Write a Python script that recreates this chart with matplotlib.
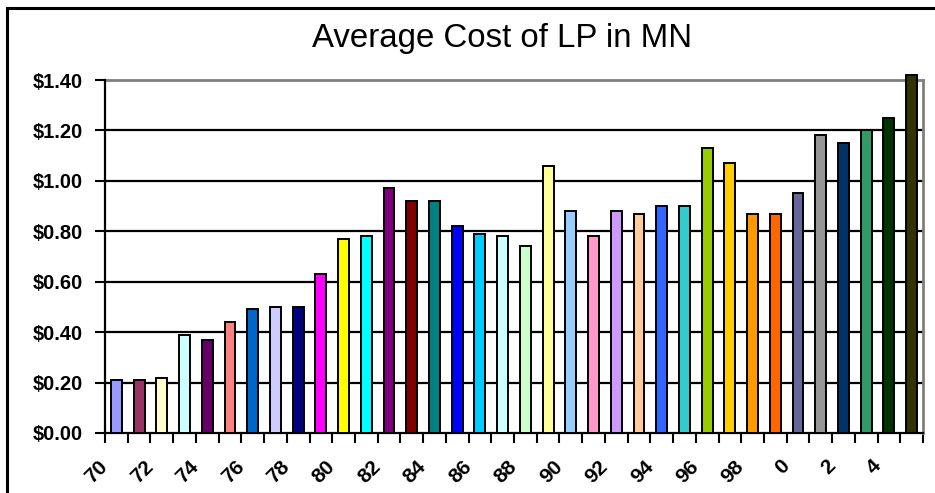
import matplotlib
matplotlib.use("Agg")
import matplotlib.pyplot as plt
import matplotlib.transforms as mtransforms
from matplotlib.patches import Rectangle

# data
years = ['70', '71', '72', '73', '74', '75', '76', '77', '78', '79',
         '80', '81', '82', '83', '84', '85', '86', '87', '88', '89',
         '90', '91', '92', '93', '94', '95', '96', '97', '98', '99',
         '0', '1', '2', '3', '4', '5']
cost = [0.21, 0.21, 0.22, 0.39, 0.37, 0.44, 0.49, 0.50, 0.50, 0.63,
        0.77, 0.78, 0.97, 0.92, 0.92, 0.82, 0.79, 0.78, 0.74, 1.06,
        0.88, 0.78, 0.88, 0.87, 0.90, 0.90, 1.13, 1.07, 0.87, 0.87,
        0.95, 1.18, 1.15, 1.20, 1.25, 1.42]
colors = ['#9999FF', '#993366', '#FFFFCC', '#CCFFFF', '#660066', '#FF8080',
          '#0066CC', '#CCCCFF', '#000080', '#FF00FF', '#FFFF00', '#00FFFF',
          '#800080', '#800000', '#008080', '#0000FF', '#00CCFF', '#CCFFFF',
          '#CCFFCC', '#FFFF99', '#99CCFF', '#FF99CC', '#CC99FF', '#FFCC99',
          '#3366FF', '#33CCCC', '#99CC00', '#FFCC00', '#FF9900', '#FF6600',
          '#666699', '#969696', '#003366', '#339966', '#003300', '#333300']
yticks = [0.0, 0.2, 0.4, 0.6, 0.8, 1.0, 1.2, 1.4]

plt.rcParams['font.family'] = ['Liberation Sans', 'DejaVu Sans']

fig = plt.figure(figsize=(9.35, 4.93), dpi=100)
ax = fig.add_axes([105 / 935, 60 / 493, 818 / 935, 353 / 493])

x = list(range(len(years)))
ax.bar(x, cost, width=0.48, color=colors, edgecolor='black',
       linewidth=1.4, clip_on=False, zorder=3)

ax.set_xlim(-0.5, len(years) - 0.5)
ax.set_ylim(0, 1.4)

# gridlines in black, plot border gray on top/right
ax.set_yticks(yticks)
ax.set_yticklabels(['$%.2f' % v for v in yticks], fontsize=14.5, fontweight='bold')
for v in yticks[1:-1]:
    ax.axhline(v, color='black', linewidth=1.6, zorder=1)

ax.spines['top'].set_color('#808080')
ax.spines['right'].set_color('#808080')
ax.spines['top'].set_linewidth(2)
ax.spines['right'].set_linewidth(2)
ax.spines['left'].set_linewidth(1.6)
ax.spines['bottom'].set_linewidth(1.6)
ax.spines['top'].set_zorder(2)

ax.tick_params(axis='y', length=7, width=1.5, pad=9)

# labels every other year, tick marks at category boundaries
ax.set_xticks(x[::2])
ax.set_xticklabels(years[::2], fontsize=15, fontweight='bold',
                   rotation=45, ha='right', va='top', rotation_mode='anchor')
ax.set_xticks([i - 0.5 for i in range(len(years) + 1)], minor=True)
ax.tick_params(axis='x', which='major', length=0, pad=17)
ax.tick_params(axis='x', which='minor', length=7, width=1.5)
shift = mtransforms.ScaledTranslation(-18 / 100, 0, fig.dpi_scale_trans)
for lab in ax.get_xticklabels():
    lab.set_transform(lab.get_transform() + shift)

fig.text(502 / 935, 1 - 38 / 493, 'Average Cost of LP in MN',
         fontsize=23.8, ha='center', va='center')

# outer chart border (cropped at right and bottom)
fig.patches.append(Rectangle((7 / 935, -0.1), 1.2, 1 - 8 / 493 + 0.1,
                             transform=fig.transFigure, fill=False,
                             edgecolor='black', linewidth=2.2))

fig.savefig('out.png', dpi=100)
